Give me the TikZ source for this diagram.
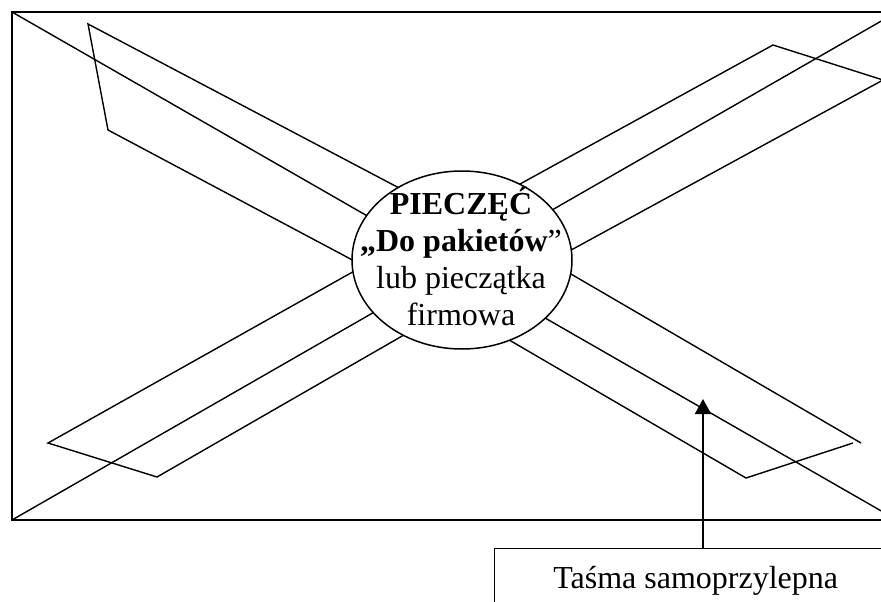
\documentclass[tikz,border=0pt]{standalone}
\usepackage{fontspec}
\setmainfont{Liberation Serif}
\usetikzlibrary{arrows.meta}

\begin{document}
\begin{tikzpicture}[x=1pt, y=-1pt,
  envelope/.style={line width=1.8pt},
  tape/.style={line width=1.4pt, line join=miter},
  pointer/.style={line width=1.8pt, -{Triangle[width=16pt,length=15pt]}},
  txt/.style={font=\fontsize{32}{37}\selectfont}]
\useasboundingbox (0,0) rectangle (881,602);
\clip (0,0) rectangle (881,602);

% envelope outline and its two diagonals
\coordinate (tl) at (12,12);
\coordinate (tr) at (897,12);
\coordinate (bl) at (12,520);
\coordinate (br) at (897,520);
\draw[envelope] (tr) -- (tl) -- (bl) -- (br);
\draw[tape] (tl) -- (br);
\draw[tape] (bl) -- (tr);

% adhesive tape strips (inner ends run under the seal)
% upper left
\draw[tape] (420,199) -- (88,24) -- (108,130) -- (390,280);
% upper right
\draw[tape] (500,195) -- (773,45) -- (883,80) -- (540,267);
% lower left
\draw[tape] (390,251) -- (48,443) -- (157,477) -- (430,320);
% lower right
\draw[tape] (540,256) -- (861,443);
\draw[tape] (853,443) -- (746,478) -- (480,323);

% seal in the middle
\draw[line width=1.5pt, fill=white] (462,260) ellipse [x radius=110pt, y radius=89pt];
\node[txt, align=center, inner sep=0pt] (seal) at (461,256)
  {\textbf{PIECZĘĆ}\\\textbf{„Do pakietów}”\\lub pieczątka\\firmowa};

% caption box with pointer
\node[txt, draw, line width=1.3pt, anchor=north west, inner sep=0pt,
      minimum width=402pt, minimum height=64pt,
      text height=23pt, text depth=7pt] (tapebox) at (494,548) {Taśma samoprzylepna};
\coordinate (tip) at (703,399);
\draw[pointer] (tapebox.north -| tip) -- (tip);
\end{tikzpicture}
\end{document}
